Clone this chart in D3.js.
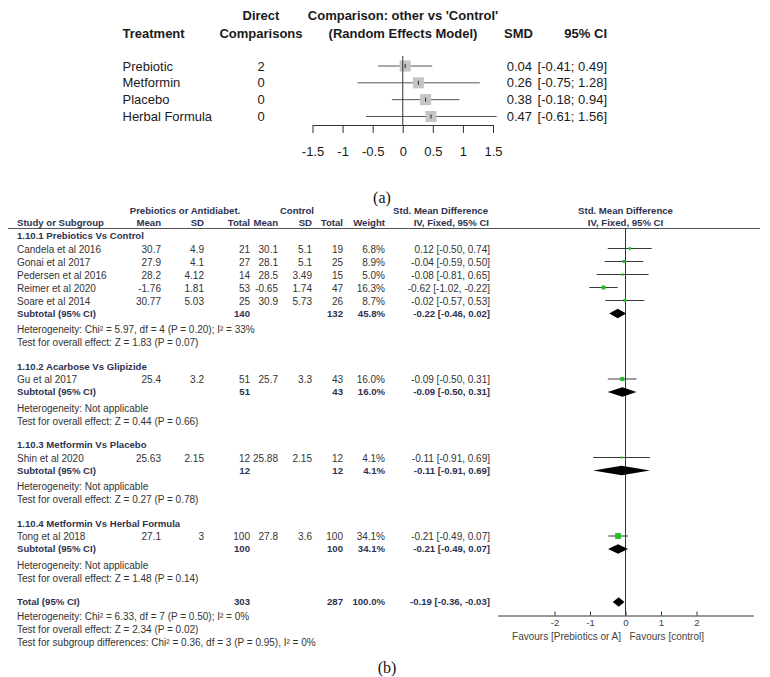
<!DOCTYPE html>
<html>
<head>
<meta charset="utf-8">
<script src="https://cdn.jsdelivr.net/npm/d3@7"></script>
<style>
body { margin: 0; background: #fff; }
svg { display: block; }
text { font-family: "Liberation Sans", Arial, sans-serif; }
</style>
</head>
<body>
<div id="chart"></div>
<script>
// ---- (a) network estimates, other vs 'Control'
var treatments = ["Prebiotic", "Metformin", "Placebo", "Herbal Formula"];
var directComparisons = [2, 0, 0, 0];
var smdA = [0.04, 0.26, 0.38, 0.47];
var lowA = [-0.41, -0.75, -0.18, -0.61];
var highA = [0.49, 1.28, 0.94, 1.56];
var ticksA = [-1.5, -1, -0.5, 0, 0.5, 1, 1.5];

// ---- (b) pairwise meta-analysis
var groupTitles = ["1.10.1 Prebiotics Vs Control", "1.10.2 Acarbose Vs Glipizide",
  "1.10.3 Metformin Vs Placebo", "1.10.4 Metformin Vs Herbal Formula"];
var studyNames = ["Candela et al 2016", "Gonai et al 2017", "Pedersen et al 2016", "Reimer et al 2020",
  "Soare et al 2014", "Gu et al 2017", "Shin et al 2020", "Tong et al 2018"];
var studyGroup = [0, 0, 0, 0, 0, 1, 2, 3];
var expMean = [30.7, 27.9, 28.2, -1.76, 30.77, 25.4, 25.63, 27.1];
var expSD = [4.9, 4.1, 4.12, 1.81, 5.03, 3.2, 2.15, 3];
var expN = [21, 27, 14, 53, 25, 51, 12, 100];
var ctrlMean = [30.1, 28.1, 28.5, -0.65, 30.9, 25.7, 25.88, 27.8];
var ctrlSD = [5.1, 5.1, 3.49, 1.74, 5.73, 3.3, 2.15, 3.6];
var ctrlN = [19, 25, 15, 47, 26, 43, 12, 100];
var weight = [6.8, 8.9, 5.0, 16.3, 8.7, 16.0, 4.1, 34.1];
var smdB = [0.12, -0.04, -0.08, -0.62, -0.02, -0.09, -0.11, -0.21];
var lowB = [-0.50, -0.59, -0.81, -1.02, -0.57, -0.50, -0.91, -0.49];
var highB = [0.74, 0.50, 0.65, -0.22, 0.53, 0.31, 0.69, 0.07];

var subExpN = [140, 51, 12, 100];
var subCtrlN = [132, 43, 12, 100];
var subWeight = [45.8, 16.0, 4.1, 34.1];
var subSmd = [-0.22, -0.09, -0.11, -0.21];
var subLow = [-0.46, -0.50, -0.91, -0.49];
var subHigh = [0.02, 0.31, 0.69, 0.07];
var groupHet = ["Heterogeneity: Chi\u00b2 = 5.97, df = 4 (P = 0.20); I\u00b2 = 33%",
  "Heterogeneity: Not applicable", "Heterogeneity: Not applicable", "Heterogeneity: Not applicable"];
var groupTest = ["Test for overall effect: Z = 1.83 (P = 0.07)", "Test for overall effect: Z = 0.44 (P = 0.66)",
  "Test for overall effect: Z = 0.27 (P = 0.78)", "Test for overall effect: Z = 1.48 (P = 0.14)"];

var totalExpN = 303, totalCtrlN = 287, totalWeight = 100.0;
var totalSmd = -0.19, totalLow = -0.36, totalHigh = -0.03;
var totalNotes = ["Heterogeneity: Chi\u00b2 = 6.33, df = 7 (P = 0.50); I\u00b2 = 0%",
  "Test for overall effect: Z = 2.34 (P = 0.02)",
  "Test for subgroup differences: Chi\u00b2 = 0.36, df = 3 (P = 0.95), I\u00b2 = 0%"];
var ticksB = [-2, -1, 0, 1, 2];

var width = 770, height = 677;
var dark = "#1a1a1a", grey = "#333", bold = "#2d3250";

function f2(v){ return v.toFixed(2); }

var svg = d3.select("#chart").append("svg").attr("width", width).attr("height", height);

// ================= (a) =================
var ga = svg.append("g").attr("class", "partA");
var xA = d3.scaleLinear().domain([-1.5, 1.5]).range([312.5, 493]);
var rowA = d3.scalePoint().domain(treatments).range([66, 116.5]);

function headA(txt, x, y, anchor){
  ga.append("text").attr("x", x).attr("y", y).attr("dy", "0.35em")
    .attr("text-anchor", anchor).style("font-size", "13px").style("font-weight", "bold")
    .attr("fill", dark).text(txt);
}
headA("Direct", 261, 15.5, "middle");
headA("Comparisons", 261, 33, "middle");
headA("Comparison: other vs 'Control'", 403, 15.5, "middle");
headA("(Random Effects Model)", 403, 33, "middle");
headA("Treatment", 122.5, 33, "start");
headA("SMD", 504, 33, "start");
headA("95% CI", 607, 33, "end");

var ra = ga.selectAll("g.row").data(treatments).enter().append("g").attr("class", "row")
  .attr("transform", function(d){ return "translate(0," + rowA(d) + ")"; });
ra.append("text").attr("x", 122.5).attr("dy", "0.35em").style("font-size", "13px").attr("fill", dark)
  .text(function(d){ return d; });
ra.append("text").attr("x", 261).attr("dy", "0.35em").attr("text-anchor", "middle")
  .style("font-size", "13px").attr("fill", dark)
  .text(function(d, i){ return directComparisons[i]; });
ra.append("text").attr("x", 532).attr("dy", "0.35em").attr("text-anchor", "end")
  .style("font-size", "13px").attr("fill", dark)
  .text(function(d, i){ return f2(smdA[i]); });
ra.append("text").attr("x", 607).attr("dy", "0.35em").attr("text-anchor", "end")
  .style("font-size", "13px").attr("fill", dark)
  .text(function(d, i){ return "[" + f2(lowA[i]) + "; " + f2(highA[i]) + "]"; });

// reference line at 0
ga.append("line").attr("x1", xA(0)).attr("x2", xA(0)).attr("y1", 56).attr("y2", 125)
  .attr("stroke", "#333").attr("stroke-width", 1);

ra.append("line").attr("x1", function(d, i){ return xA(lowA[i]); })
  .attr("x2", function(d, i){ return xA(highA[i]); })
  .attr("stroke", "#555").attr("stroke-width", 1);
ra.append("rect").attr("x", function(d, i){ return xA(smdA[i]) - 5.5; }).attr("y", -5.5)
  .attr("width", 11).attr("height", 11).attr("fill", "#c4c4c4");
ra.append("line").attr("x1", function(d, i){ return xA(smdA[i]); })
  .attr("x2", function(d, i){ return xA(smdA[i]); })
  .attr("y1", -2).attr("y2", 2).attr("stroke", "#222").attr("stroke-width", 1);

var axA = ga.append("g").attr("transform", "translate(0,125)")
  .call(d3.axisBottom(xA).tickValues(ticksA).tickSize(8).tickSizeOuter(0).tickPadding(14)
    .tickFormat(function(d){ return String(d); }));
axA.selectAll("path, line").attr("stroke", "#333");
axA.selectAll("text").style("font-size", "13px").style("font-family", "'Liberation Sans', Arial, sans-serif")
  .attr("fill", dark);

svg.append("text").attr("x", 382).attr("y", 197).attr("dy", "0.35em").attr("text-anchor", "middle")
  .style("font-family", "'Liberation Serif', 'Times New Roman', serif").style("font-size", "16px")
  .attr("fill", "#111").text("(a)");

// ================= (b) =================
var gb = svg.append("g").attr("class", "partB");
var xB = d3.scaleLinear().domain([-3.6, 3.6]).range([497.7, 753.3]);
var box = d3.scaleSqrt().domain([0, 100]).range([0, 10]);
var col = { expMean: 161, expSD: 204, expN: 250, ctrlMean: 278, ctrlSD: 312, ctrlN: 343, weight: 385, effect: 490 };

function txt(x, y, s, anchor, isBold){
  gb.append("text").attr("x", x).attr("y", y).attr("dy", "0.35em")
    .attr("text-anchor", anchor || "start")
    .style("font-size", isBold ? "9.6px" : "10px")
    .style("font-weight", isBold ? "bold" : "normal")
    .attr("fill", isBold ? bold : grey).text(s);
}

// headers
txt(185, 210.5, "Prebiotics or Antidiabet.", "middle", true);
txt(297, 210.5, "Control", "middle", true);
txt(488, 210.5, "Std. Mean Difference", "end", true);
txt(625.5, 210.5, "Std. Mean Difference", "middle", true);
txt(17, 223, "Study or Subgroup", "start", true);
txt(col.expMean, 223, "Mean", "end", true);
txt(col.expSD, 223, "SD", "end", true);
txt(col.expN, 223, "Total", "end", true);
txt(col.ctrlMean, 223, "Mean", "end", true);
txt(col.ctrlSD, 223, "SD", "end", true);
txt(col.ctrlN, 223, "Total", "end", true);
txt(col.weight, 223, "Weight", "end", true);
txt(489, 223, "IV, Fixed, 95% CI", "end", true);
txt(625.5, 223, "IV, Fixed, 95% CI", "middle", true);
gb.append("line").attr("x1", 8).attr("x2", 760).attr("y1", 228.5).attr("y2", 228.5)
  .attr("stroke", "#555").attr("stroke-width", 1);

// row layout
var rows = [], y = 236;
groupTitles.forEach(function(t, g){
  if (g > 0) y += 24;
  rows.push({ type: "title", y: y, g: g });
  studyNames.forEach(function(s, i){
    if (studyGroup[i] === g){ y += 13; rows.push({ type: "study", y: y, i: i }); }
  });
  y += 12.5; rows.push({ type: "sub", y: y, g: g });
  y += 16; rows.push({ type: "note", y: y, text: groupHet[g] });
  y += 13; rows.push({ type: "note", y: y, text: groupTest[g] });
});
y += 24; var totalY = y; rows.push({ type: "total", y: y });
totalNotes.forEach(function(t, k){ y += (k === 0 ? 14 : 13); rows.push({ type: "note", y: y, text: t }); });

var axisY = totalY + 13.5;
gb.append("line").attr("x1", xB(0)).attr("x2", xB(0)).attr("y1", 228.5).attr("y2", axisY)
  .attr("stroke", "#333").attr("stroke-width", 1);

function diamond(est, lo, hi, yy){
  gb.append("path").attr("d", "M" + xB(lo) + "," + yy + "L" + xB(est) + "," + (yy - 4.8) +
    "L" + xB(hi) + "," + yy + "L" + xB(est) + "," + (yy + 4.8) + "Z").attr("fill", "#000");
}

rows.forEach(function(r){
  if (r.type === "title"){
    txt(17, r.y, groupTitles[r.g], "start", true);
  } else if (r.type === "study"){
    var i = r.i;
    txt(17, r.y, studyNames[i]);
    txt(col.expMean, r.y, String(expMean[i]), "end");
    txt(col.expSD, r.y, String(expSD[i]), "end");
    txt(col.expN, r.y, String(expN[i]), "end");
    txt(col.ctrlMean, r.y, String(ctrlMean[i]), "end");
    txt(col.ctrlSD, r.y, String(ctrlSD[i]), "end");
    txt(col.ctrlN, r.y, String(ctrlN[i]), "end");
    txt(col.weight, r.y, weight[i].toFixed(1) + "%", "end");
    txt(col.effect, r.y, f2(smdB[i]) + " [" + f2(lowB[i]) + ", " + f2(highB[i]) + "]", "end");
    gb.append("line").attr("x1", xB(lowB[i])).attr("x2", xB(highB[i])).attr("y1", r.y - 0.5).attr("y2", r.y - 0.5)
      .attr("stroke", "#3a3a3a").attr("stroke-width", 1);
    var s = Math.max(2, box(weight[i]));
    gb.append("rect").attr("x", xB(smdB[i]) - s / 2).attr("y", r.y - 0.5 - s / 2)
      .attr("width", s).attr("height", s).attr("fill", "#1ec31e");
  } else if (r.type === "sub"){
    var g = r.g;
    txt(17, r.y, "Subtotal (95% CI)", "start", true);
    txt(col.expN, r.y, String(subExpN[g]), "end", true);
    txt(col.ctrlN, r.y, String(subCtrlN[g]), "end", true);
    txt(col.weight, r.y, subWeight[g].toFixed(1) + "%", "end", true);
    txt(col.effect, r.y, f2(subSmd[g]) + " [" + f2(subLow[g]) + ", " + f2(subHigh[g]) + "]", "end", true);
    diamond(subSmd[g], subLow[g], subHigh[g], r.y);
  } else if (r.type === "total"){
    txt(17, r.y, "Total (95% CI)", "start", true);
    txt(col.expN, r.y, String(totalExpN), "end", true);
    txt(col.ctrlN, r.y, String(totalCtrlN), "end", true);
    txt(col.weight, r.y, totalWeight.toFixed(1) + "%", "end", true);
    txt(col.effect, r.y, f2(totalSmd) + " [" + f2(totalLow) + ", " + f2(totalHigh) + "]", "end", true);
    diamond(totalSmd, totalLow, totalHigh, r.y);
  } else {
    txt(17, r.y, r.text);
  }
});

var axB = gb.append("g").attr("transform", "translate(0," + axisY + ")")
  .call(d3.axisBottom(xB).tickValues(ticksB).tickSizeInner(-4).tickSizeOuter(0).tickPadding(4)
    .tickFormat(function(d){ return String(d); }));
axB.selectAll("path, line").attr("stroke", "#333");
axB.selectAll("text").style("font-size", "9.6px").style("font-family", "'Liberation Sans', Arial, sans-serif")
  .attr("fill", "#444");

gb.append("text").attr("x", 621).attr("y", axisY + 20.5).attr("dy", "0.35em").attr("text-anchor", "end")
  .style("font-size", "10px").attr("fill", "#444").text("Favours [Prebiotics or A]");
gb.append("text").attr("x", 629.5).attr("y", axisY + 20.5).attr("dy", "0.35em")
  .style("font-size", "10px").attr("fill", "#444").text("Favours [control]");

svg.append("text").attr("x", 387).attr("y", 667).attr("dy", "0.35em").attr("text-anchor", "middle")
  .style("font-family", "'Liberation Serif', 'Times New Roman', serif").style("font-size", "16px")
  .attr("fill", "#111").text("(b)");
</script>
</body>
</html>
